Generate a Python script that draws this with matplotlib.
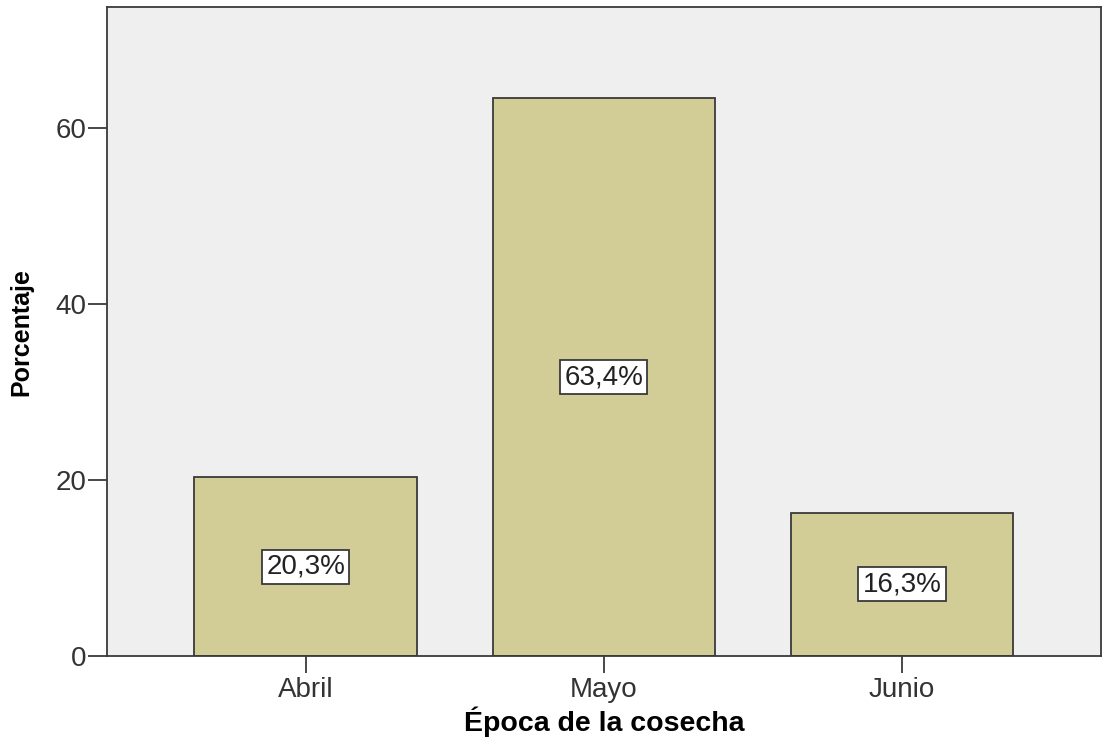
import matplotlib.pyplot as plt
import numpy as np

plt.rcParams['font.family'] = ['Liberation Sans', 'DejaVu Sans']

categories = ['Abril', 'Mayo', 'Junio']
percentages = [20.3, 63.4, 16.3]
value_labels = ['20,3%', '63,4%', '16,3%']

fig = plt.figure(figsize=(11.03, 7.44), dpi=100)
ax = fig.add_axes([0.097, 0.1183, 0.901, 0.8717])
ax.set_facecolor('#efefef')

x = np.arange(len(categories))
ax.bar(x, percentages, width=0.747, color='#d2cd96', edgecolor='#3a3a3a', linewidth=1.3)

# value labels in white boxes at mid-height
for xi, val, lab in zip(x, percentages, value_labels):
    ax.text(xi, val / 2, lab, ha='center', va='center', fontsize=20, color='#222222',
            bbox=dict(boxstyle='square,pad=0.15', facecolor='white', edgecolor='#3a3a3a', linewidth=1.3))

ax.set_xlim(-0.667, 2.667)
ax.set_ylim(0, 73.7)
ax.set_yticks([0, 20, 40, 60])
ax.set_xticks(x)
ax.set_xticklabels(categories)
ax.tick_params(axis='both', labelsize=20, labelcolor='#333333', color='#3a3a3a', width=1.3)
ax.tick_params(axis='y', length=14, pad=1)
ax.tick_params(axis='x', length=12, pad=3)

for side in ['left', 'bottom', 'top', 'right']:
    ax.spines[side].set_color('#3a3a3a')
    ax.spines[side].set_linewidth(1.3)

ax.set_xlabel('Época de la cosecha', fontsize=20.5, fontweight='bold', labelpad=3)
ax.set_ylabel('Porcentaje', fontsize=18, fontweight='bold', labelpad=16)

fig.savefig('out.png', dpi=100)
